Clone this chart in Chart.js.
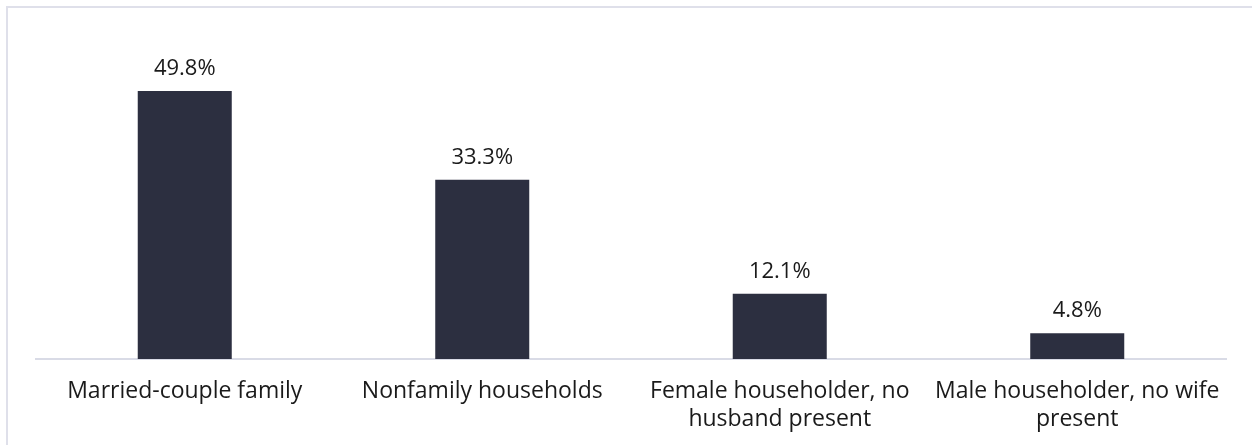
<!DOCTYPE html>
<html>
<head>
<meta charset="utf-8">
<script src="https://cdn.jsdelivr.net/npm/chart.js@4"></script>
<style>
  body { margin: 0; background: #fff; }
  #frame {
    position: absolute; left: 6px; top: 6px;
    width: 1300px; height: 500px;
    border: 2px solid #dfe0ea;
  }
  #wrap { position: absolute; left: 0; top: 0; width: 1252px; height: 445px; }
</style>
</head>
<body>
<div id="frame"></div>
<div id="wrap"><canvas id="chart"></canvas></div>
<script>
// household types, share in percent
const categories = [
    'Married-couple family',
    'Nonfamily households',
    ['Female householder, no', 'husband present'],
    ['Male householder, no wife', 'present']
];
const shares = [49.8, 33.3, 12.1, 4.8];

const FONT = '"Open Sans", "Noto Sans", sans-serif';

// draws the "49.8%" labels above each bar
const valueLabels = {
    id: 'valueLabels',
    afterDatasetsDraw(chart) {
        const ctx = chart.ctx;
        const meta = chart.getDatasetMeta(0);
        ctx.save();
        ctx.font = '22px ' + FONT;
        ctx.fillStyle = '#1a1a1a';
        ctx.textAlign = 'center';
        ctx.textBaseline = 'alphabetic';
        meta.data.forEach((bar, i) => {
            ctx.fillText(shares[i].toFixed(1) + '%', bar.x, bar.y - 16);
        });
        ctx.restore();
    }
};

new Chart(document.getElementById('chart'), {
    type: 'bar',
    data: {
        labels: categories,
        datasets: [{
            data: shares,
            backgroundColor: '#2c2f40',
            barPercentage: 0.316,
            categoryPercentage: 1
        }]
    },
    options: {
        responsive: true,
        maintainAspectRatio: false,
        animation: false,
        layout: { padding: { left: 36, right: 26, top: 36, bottom: 0 } },
        plugins: {
            legend: { display: false },
            tooltip: { enabled: false }
        },
        scales: {
            x: {
                grid: { display: false, drawTicks: false },
                border: { display: true, color: '#d9dbe6', width: 2 },
                ticks: {
                    color: '#1a1a1a',
                    font: { family: FONT, size: 23, lineHeight: 1.2 },
                    padding: 19,
                    autoSkip: false,
                    maxRotation: 0
                },
                afterFit(scale) { scale.height = 86; }
            },
            y: {
                display: false,
                min: 0,
                max: 60
            }
        }
    },
    plugins: [valueLabels]
});
</script>
</body>
</html>
